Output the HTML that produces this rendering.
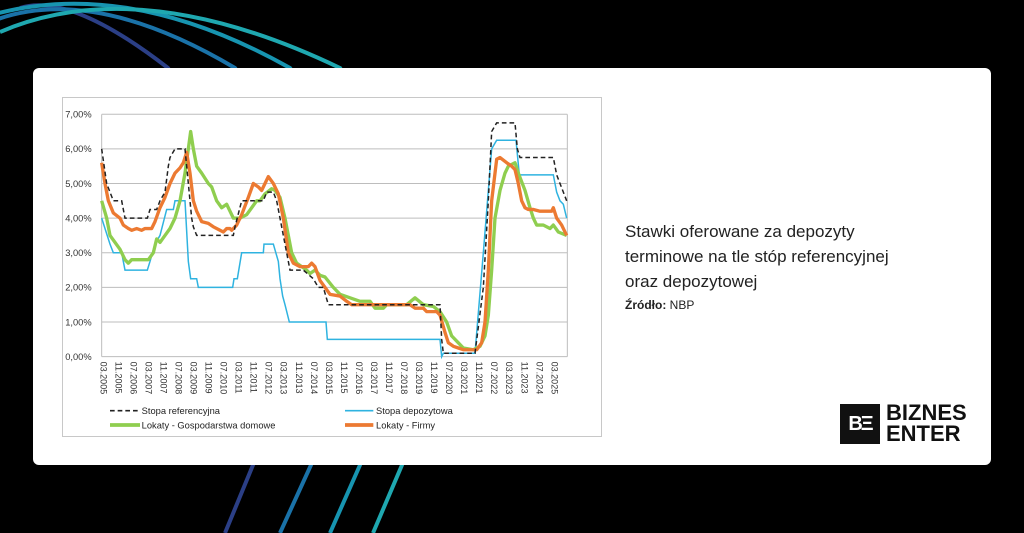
<!DOCTYPE html>
<html><head><meta charset="utf-8"><style>
body{margin:0;width:1024px;height:533px;background:#000;position:relative;overflow:hidden;font-family:"Liberation Sans",sans-serif}
#card{position:absolute;left:33px;top:68px;width:958px;height:397px;background:#fff;border-radius:6px}
#frame{position:absolute;left:62px;top:97px;width:540px;height:340px;border:1px solid #c8c8c8;box-sizing:border-box}
#title{position:absolute;left:625px;top:219px;font-size:17px;line-height:25px;color:#222}
#src{position:absolute;left:625px;top:298px;font-size:12px;color:#222}
#logo{position:absolute;left:840px;top:404px;width:40px;height:40px;background:#111;color:#fff;font-weight:bold;font-size:20px;text-align:center;line-height:40px;letter-spacing:-2px}
#lt{position:absolute;left:886px;top:402px;font-weight:bold;font-size:22px;line-height:21px;color:#111}
</style></head><body>
<svg width="1024" height="533" style="position:absolute;left:0;top:0">
<g fill="none" stroke-width="4">
<path d="M20,8 Q70,-8 168,68 Q260,200 253,465 L225,533" stroke="#2b3f86"/>
<path d="M-10,22 Q90,-18 235,68 Q330,200 311,465 L280,533" stroke="#1a72a8"/>
<path d="M-5,14 Q130,-22 290,68 Q380,200 360,465 L330,533" stroke="#1794b0"/>
<path d="M0,32 Q140,-28 340,68 Q430,200 402,465 L373,533" stroke="#1fa8b0"/>
</g></svg>
<div id="card"></div>
<div id="frame"></div>
<svg id="ch" width="560" height="350" viewBox="0 0 1680 1050" style="position:absolute;left:60px;top:90px"></svg>
<div id="title">Stawki oferowane za depozyty<br>terminowe na tle stóp referencyjnej<br>oraz depozytowej</div>
<div id="src"><b>Źródło:</b> NBP</div>
<div id="logo">BΞ</div>
<div id="lt">BIZNES<br>ENTER</div>
<script>
const s=document.getElementById('ch');let h='';
const Y=v=>800-v*103.9;
for(let i=0;i<=7;i++){h+=`<line x1="125" x2="1522" y1="${Y(i)}" y2="${Y(i)}" stroke="#bdbdbd" stroke-width="3"/>`;
h+=`<text x="95" y="${Y(i)+10}" text-anchor="end" font-size="28" fill="#333">${i},00%</text>`;}
h+=`<line x1="125" x2="125" y1="73" y2="800" stroke="#bdbdbd" stroke-width="3"/><line x1="1522" x2="1522" y1="73" y2="800" stroke="#bdbdbd" stroke-width="3"/>`;
for(let i=0;i<=30;i++){const m=i*8;const mo=[3,11,7][i%3];const yr=2005+Math.floor((m+2)/12);
const x=130+45.1*i;h+=`<text transform="translate(${x-9},815) rotate(90)" font-size="27" fill="#333">${String(mo).padStart(2,'0')}.${yr}</text>`;}
function P(d){return d.map((p,i)=>(i?'L':'M')+p[0]+','+Y(p[1]).toFixed(1)).join(' ');}
const ref=[[125,6],[140,5],[160,4.5],[185,4.5],[195,4],[262,4],[270,4.25],[290,4.25],[300,4.5],[315,4.75],[325,5.5],[330,5.75],[345,6],[375,6],[385,5],[395,4],[400,3.75],[410,3.5],[520,3.5],[525,3.75],[545,4.5],[610,4.5],[620,4.75],[640,4.75],[650,4.5],[660,4],[670,3.5],[680,3],[690,2.5],[730,2.5],[760,2.25],[775,2],[790,2],[805,1.5],[1140,1.5],[1145,0.5],[1150,0.1],[1245,0.1],[1270,2],[1285,4.5],[1295,6.5],[1310,6.75],[1365,6.75],[1372,6],[1380,5.75],[1480,5.75],[1490,5.25],[1500,5],[1510,4.75],[1520,4.5]];
const dep=[[125,4],[150,3.25],[160,3],[185,3],[195,2.5],[262,2.5],[270,2.75],[285,3.25],[300,3.5],[320,4.25],[340,4.25],[345,4.5],[375,4.5],[385,2.75],[392,2.25],[410,2.25],[415,2],[518,2],[522,2.25],[532,2.25],[545,3],[610,3],[612,3.25],[640,3.25],[655,2.75],[660,2.25],[668,1.75],[675,1.5],[688,1],[798,1],[802,0.5],[1140,0.5],[1145,0],[1150,0.1],[1245,0.1],[1270,3],[1295,6],[1310,6.25],[1368,6.25],[1378,5.25],[1480,5.25],[1490,4.75],[1500,4.5],[1510,4.4],[1520,4]];
const gr=[[125,4.5],[140,4],[150,3.5],[165,3.3],[180,3.1],[195,2.8],[205,2.7],[215,2.8],[265,2.8],[280,3],[290,3.4],[300,3.3],[315,3.5],[330,3.7],[345,4],[360,4.5],[375,5.3],[385,6],[392,6.5],[400,6],[410,5.5],[425,5.3],[445,5],[455,4.9],[470,4.5],[485,4.3],[500,4.4],[510,4.2],[520,4],[540,4],[560,4.1],[575,4.3],[590,4.5],[600,4.5],[615,4.7],[635,4.85],[645,4.8],[660,4.6],[675,4],[695,3],[710,2.7],[740,2.5],[750,2.4],[765,2.5],[780,2.35],[795,2.3],[820,2],[840,1.8],[870,1.7],[900,1.6],[930,1.6],[945,1.4],[970,1.4],[980,1.5],[1040,1.5],[1065,1.7],[1090,1.5],[1120,1.45],[1140,1.3],[1160,1],[1175,0.6],[1195,0.4],[1210,0.25],[1240,0.2],[1260,0.3],[1275,0.6],[1285,1.2],[1295,2.5],[1305,4],[1320,4.8],[1335,5.3],[1345,5.5],[1365,5.6],[1375,5.3],[1395,4.8],[1410,4.3],[1420,4],[1430,3.8],[1450,3.8],[1470,3.7],[1480,3.8],[1495,3.6],[1520,3.5]];
const or=[[125,5.6],[135,5],[145,4.5],[160,4.15],[180,4],[190,3.8],[205,3.7],[215,3.65],[230,3.7],[245,3.65],[255,3.7],[275,3.7],[285,3.9],[300,4.3],[315,4.6],[330,5],[345,5.3],[360,5.45],[370,5.6],[380,5.9],[390,5.3],[400,4.5],[410,4.2],[425,3.9],[445,3.85],[460,3.75],[480,3.65],[490,3.6],[500,3.7],[510,3.7],[515,3.65],[530,3.8],[545,4.1],[565,4.6],[580,5],[595,4.9],[605,4.8],[615,5],[625,5.2],[640,5],[655,4.7],[670,4],[685,3],[700,2.7],[720,2.6],[745,2.6],[755,2.7],[765,2.6],[780,2.2],[795,2],[810,1.8],[840,1.75],[860,1.6],[875,1.5],[1050,1.5],[1065,1.4],[1090,1.4],[1100,1.3],[1130,1.3],[1140,1.2],[1155,0.7],[1165,0.4],[1180,0.3],[1195,0.25],[1210,0.2],[1250,0.2],[1265,0.4],[1275,1],[1285,2.5],[1295,4.5],[1310,5.7],[1320,5.75],[1340,5.6],[1355,5.5],[1365,5.4],[1375,5],[1385,4.5],[1395,4.3],[1405,4.25],[1420,4.25],[1440,4.2],[1475,4.2],[1480,4.3],[1490,4],[1505,3.8],[1520,3.5]];
h+=`<path d="${P(dep)}" fill="none" stroke="#2fb3e0" stroke-width="4.5"/>`;
h+=`<path d="${P(gr)}" fill="none" stroke="#8fce4f" stroke-width="10" stroke-linejoin="round"/>`;
h+=`<path d="${P(or)}" fill="none" stroke="#ec7a32" stroke-width="10" stroke-linejoin="round"/>`;
h+=`<path d="${P(ref)}" fill="none" stroke="#222" stroke-width="4.5" stroke-dasharray="14,9"/>`;
h+=`<line x1="150" x2="240" y1="962" y2="962" stroke="#222" stroke-width="5" stroke-dasharray="14,9"/><text x="245" y="972" font-size="28" fill="#222">Stopa referencyjna</text>`;
h+=`<line x1="855" x2="940" y1="962" y2="962" stroke="#2fb3e0" stroke-width="5"/><text x="948" y="972" font-size="28" fill="#222">Stopa depozytowa</text>`;
h+=`<line x1="150" x2="240" y1="1005" y2="1005" stroke="#8fce4f" stroke-width="11"/><text x="245" y="1015" font-size="28" fill="#222">Lokaty - Gospodarstwa domowe</text>`;
h+=`<line x1="855" x2="940" y1="1005" y2="1005" stroke="#ec7a32" stroke-width="11"/><text x="948" y="1015" font-size="28" fill="#222">Lokaty - Firmy</text>`;
s.innerHTML=h;
</script>
</body></html>
